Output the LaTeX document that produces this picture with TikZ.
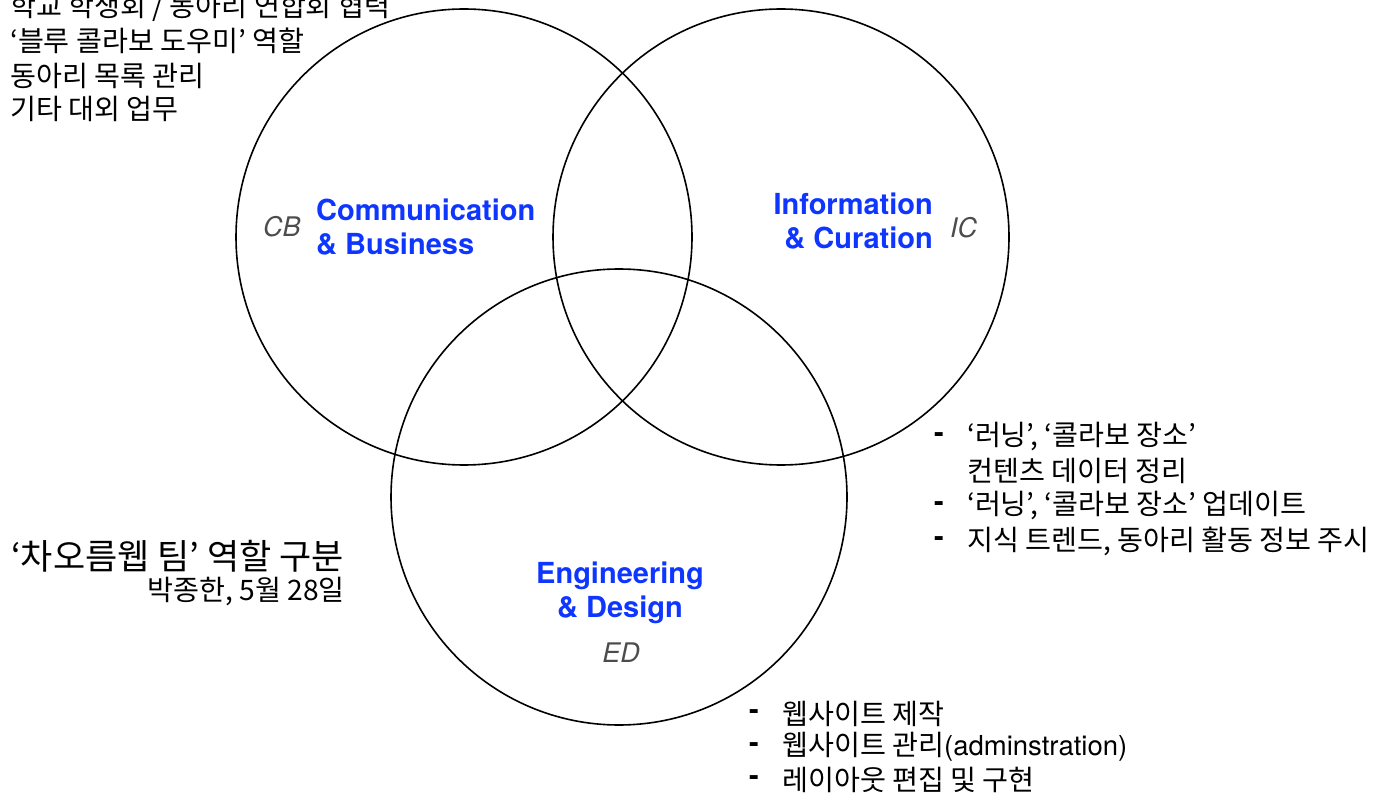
\documentclass[tikz,border=0pt]{standalone}
\usepackage{fontspec}
\setmainfont{TeX Gyre Heros}
\newfontfamily\kr{Noto Sans CJK KR}
\definecolor{vblue}{HTML}{0F36FF}
\begin{document}
\begin{tikzpicture}[x=1pt,y=-1pt,
  venn/.style={circle,draw,line width=1.6pt,minimum size=456pt,inner sep=0pt},
  kor/.style={font=\kr\fontsize{28.2}{32}\selectfont,inner sep=0pt,anchor=west},
  korbig/.style={font=\kr\fontsize{35}{40}\selectfont,inner sep=0pt,anchor=west},
  dashmark/.style={font=\fontsize{29}{32}\selectfont\bfseries,inner sep=0pt,anchor=west},
  lab/.style={font=\fontsize{29}{34}\selectfont\bfseries,text=vblue,inner sep=0pt},
  abbr/.style={font=\fontsize{27}{34}\selectfont\itshape,text=black!70,inner sep=0pt,anchor=base west}]
\useasboundingbox (0,0) rectangle (1384,802);
% circles
\node[venn] (cb) at (464,237) {};
\node[venn] (ic) at (781,237) {};
\node[venn] (ed) at (619,497) {};
% blue labels
\node[lab,anchor=base west] (cb1) at (316,221) {Communication};
\node[lab,anchor=base west] (cb2) at (316,255) {\& Business};
\node[lab,anchor=base east] (ic1) at (933,215) {Information};
\node[lab,anchor=base east] (ic2) at (933,249) {\& Curation};
\node[lab,anchor=base] (ed1) at (620,583) {Engineering};
\node[lab,anchor=base] (ed2) at (620,617) {\& Design};
% abbreviations
\node[abbr] (cbab) at (263,237) {CB};
\node[abbr] (icab) at (950,238) {IC};
\node[abbr,anchor=base] (edab) at (621,662) {ED};
% top-left text
\node[kor] (t1) at (10,7) {학교 학생회 / 동아리 연합회 협력};
\node[kor] (t2) at (10,41) {‘블루 콜라보 도우미’ 역할};
\node[kor] (t3) at (10,76) {동아리 목록 관리};
\node[kor] (t4) at (10,109) {기타 대외 업무};
% title
\node[korbig] (title) at (11,556) {‘차오름웹 팀’ 역할 구분};
\node[kor,anchor=east] (author) at (345,592) {박종한, 5월 28일};
% right list
\node[dashmark] (r1d) at (934,438) {-};
\node[kor] (r1) at (967,437) {‘러닝’, ‘콜라보 장소’};
\node[kor] (r1b) at (967,471) {컨텐츠 데이터 정리};
\node[dashmark] (r2d) at (934,507) {-};
\node[kor] (r2) at (967,506) {‘러닝’, ‘콜라보 장소’ 업데이트};
\node[dashmark] (r3d) at (934,542) {-};
\node[kor] (r3) at (967,541) {지식 트렌드, 동아리 활동 정보 주시};
% bottom list
\node[dashmark] (b1d) at (749,715) {-};
\node[kor] (b1) at (782,714) {웹사이트 제작};
\node[dashmark] (b2d) at (749,748) {-};
\node[kor] (b2) at (782,747) {웹사이트 관리{\rmfamily\fontsize{27.5}{32}\selectfont(adminstration)}};
\node[dashmark] (b3d) at (749,781) {-};
\node[kor] (b3) at (782,780) {레이아웃 편집 및 구현};
\end{tikzpicture}
\end{document}
